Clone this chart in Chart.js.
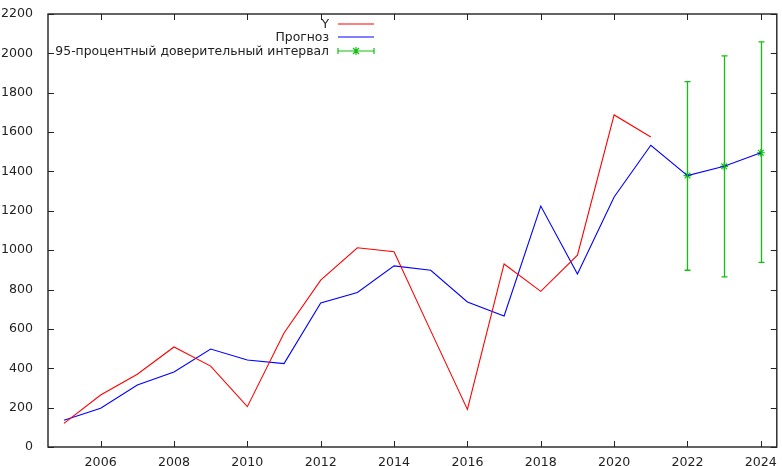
<!DOCTYPE html>
<html lang="ru">
<head>
    <meta charset="UTF-8">
    <title>Прогноз</title>
    <script src="https://cdn.jsdelivr.net/npm/chart.js"></script>
    <style>
        body { margin: 0; background: #fff; }
        #wrap { width: 782px; height: 466px; }
    </style>
</head>
<body>
    <div id="wrap"><canvas id="chart" width="782" height="466"></canvas></div>
    <script>
        // data
        const years = [2005, 2006, 2007, 2008, 2009, 2010, 2011, 2012, 2013, 2014, 2015, 2016, 2017, 2018, 2019, 2020, 2021, 2022, 2023, 2024];
        const actual = [120, 264, 370, 508, 411, 205, 579, 848, 1012, 992, 590, 191, 930, 791, 975, 1687, 1575, null, null, null];
        const forecast = [136, 197, 315, 381, 498, 442, 424, 732, 785, 920, 898, 737, 666, 1224, 879, 1270, 1533, 1379, 1426, 1495];
        const ciYears = [2022, 2023, 2024];
        const ciLow = [898, 864, 938];
        const ciHigh = [1856, 1987, 2058];
        const xTicks = [2006, 2008, 2010, 2012, 2014, 2016, 2018, 2020, 2022, 2024];
        const yTicks = [0, 200, 400, 600, 800, 1000, 1200, 1400, 1600, 1800, 2000, 2200];

        const RED = '#ff0000', BLUE = '#0000ff', GREEN = '#11c011';
        const FSIZE = 12.6;
        const LEGEND_FONT = '12.4px "DejaVu Sans"';

        const ciCenter = ciYears.map(y => forecast[years.indexOf(y)]);

        // frame, inner ticks on all sides, error bars, legend
        const gnuplotLook = {
            id: 'gnuplotLook',
            afterDatasetsDraw(chart) {
                const ctx = chart.ctx, a = chart.chartArea;
                const xs = chart.scales.x, ys = chart.scales.y;
                ctx.save();

                // error bars
                ctx.strokeStyle = GREEN;
                ctx.lineWidth = 1.3;
                ciYears.forEach((yr, i) => {
                    const px = Math.round(xs.getPixelForValue(yr)) + 0.5;
                    const top = ys.getPixelForValue(ciHigh[i]);
                    const bot = ys.getPixelForValue(ciLow[i]);
                    ctx.beginPath();
                    ctx.moveTo(px, top); ctx.lineTo(px, bot);
                    ctx.moveTo(px - 3, top); ctx.lineTo(px + 3, top);
                    ctx.moveTo(px - 3, bot); ctx.lineTo(px + 3, bot);
                    ctx.stroke();
                });

                // frame
                ctx.strokeStyle = '#222';
                ctx.lineWidth = 1.4;
                ctx.strokeRect(a.left, a.top, a.right - a.left, a.bottom - a.top);

                // ticks
                ctx.lineWidth = 1;
                ctx.beginPath();
                xTicks.forEach(v => {
                    const px = Math.round(xs.getPixelForValue(v)) + 0.5;
                    ctx.moveTo(px, a.bottom); ctx.lineTo(px, a.bottom - 6);
                    ctx.moveTo(px, a.top); ctx.lineTo(px, a.top + 6);
                });
                yTicks.forEach(v => {
                    const py = Math.round(ys.getPixelForValue(v)) + 0.5;
                    ctx.moveTo(a.left, py); ctx.lineTo(a.left + 6, py);
                    ctx.moveTo(a.right, py); ctx.lineTo(a.right - 6, py);
                });
                ctx.stroke();

                // legend
                ctx.font = LEGEND_FONT;
                ctx.textAlign = 'right';
                ctx.textBaseline = 'middle';
                const items = [
                    { text: 'Y', color: RED },
                    { text: 'Прогноз', color: BLUE },
                    { text: '95-процентный доверительный интервал', color: GREEN, bar: true }
                ];
                const tx = 329, sx0 = 338, sx1 = 374;
                items.forEach((it, i) => {
                    const ly = Math.round(24 + i * 13.4);
                    ctx.fillStyle = '#222';
                    ctx.fillText(it.text, tx, ly + 1);
                    ctx.strokeStyle = it.color;
                    ctx.lineWidth = 1.2;
                    ctx.beginPath();
                    ctx.moveTo(sx0, ly); ctx.lineTo(sx1, ly);
                    if (it.bar) {
                        ctx.moveTo(sx0, ly - 3); ctx.lineTo(sx0, ly + 3);
                        ctx.moveTo(sx1, ly - 3); ctx.lineTo(sx1, ly + 3);
                        const cx = (sx0 + sx1) / 2;
                        ctx.moveTo(cx - 4, ly); ctx.lineTo(cx + 4, ly);
                        ctx.moveTo(cx, ly - 4); ctx.lineTo(cx, ly + 4);
                        ctx.moveTo(cx - 3, ly - 3); ctx.lineTo(cx + 3, ly + 3);
                        ctx.moveTo(cx - 3, ly + 3); ctx.lineTo(cx + 3, ly - 3);
                    }
                    ctx.stroke();
                });

                ctx.restore();
            }
        };

        function noPad(s) {
            s.paddingTop = 0; s.paddingBottom = 0;
            s.paddingLeft = 0; s.paddingRight = 0;
        }

        new Chart(document.getElementById('chart'), {
            type: 'line',
            data: {
                datasets: [
                    {
                        label: 'Y',
                        data: years.map((y, i) => ({ x: y, y: actual[i] })),
                        borderColor: RED,
                        borderWidth: 1.1,
                        pointRadius: 0,
                        spanGaps: false
                    },
                    {
                        label: 'Прогноз',
                        data: years.map((y, i) => ({ x: y, y: forecast[i] })),
                        borderColor: BLUE,
                        borderWidth: 1.1,
                        pointRadius: 0
                    },
                    {
                        label: '95-процентный доверительный интервал',
                        data: ciYears.map((y, i) => ({ x: y, y: ciCenter[i] })),
                        showLine: false,
                        pointStyle: 'star',
                        pointRadius: 4,
                        borderColor: GREEN,
                        borderWidth: 1.2,
                        backgroundColor: GREEN
                    }
                ]
            },
            options: {
                responsive: false,
                animation: false,
                layout: { padding: { top: 14, right: 3, left: 0, bottom: 0 } },
                plugins: {
                    legend: { display: false },
                    tooltip: { enabled: false }
                },
                scales: {
                    x: {
                        type: 'linear',
                        min: 2004.565,
                        max: 2024.435,
                        grid: { display: false, drawTicks: false, tickLength: 0 },
                        border: { display: false },
                        ticks: {
                            includeBounds: false,
                            color: '#222',
                            font: { family: 'DejaVu Sans', size: FSIZE },
                            padding: 8,
                            maxRotation: 0,
                            callback: v => String(v)
                        },
                        afterBuildTicks: s => { s.ticks = xTicks.map(v => ({ value: v })); },
                        afterFit: s => { s.height = 19; noPad(s); }
                    },
                    y: {
                        min: 0,
                        max: 2200,
                        grid: { display: false, drawTicks: false, tickLength: 0 },
                        border: { display: false },
                        ticks: {
                            color: '#222',
                            font: { family: 'DejaVu Sans', size: FSIZE },
                            padding: 15,
                            callback: v => String(v)
                        },
                        afterBuildTicks: s => { s.ticks = yTicks.map(v => ({ value: v })); },
                        afterFit: s => { s.width = 48; noPad(s); }
                    }
                }
            },
            plugins: [gnuplotLook]
        });
    </script>
</body>
</html>
